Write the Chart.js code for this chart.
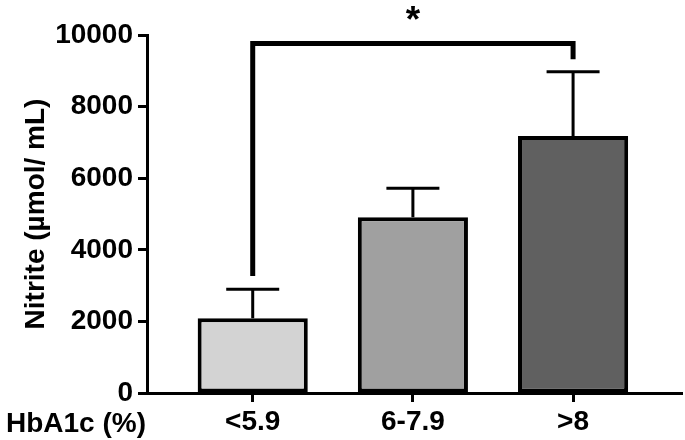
<!DOCTYPE html>
<html>
<head>
<meta charset="utf-8">
<script src="https://cdn.jsdelivr.net/npm/chart.js@4"></script>
<style>
  html, body { margin: 0; padding: 0; background: #fff; }
  #wrap { width: 685px; height: 440px; }
</style>
</head>
<body>
<div id="wrap"><canvas id="chart" width="685" height="440"></canvas></div>
<script>
const categories = ['<5.9', '6-7.9', '>8'];
const nitrite = [2090, 4910, 7180];
const errUpper = [810, 810, 1790];
const barColors = ['#d3d3d3', '#a0a0a0', '#606060'];
const yTicks = [0, 2000, 4000, 6000, 8000, 10000];
// significance bracket: from group 0 to group 2
const sigFrom = 0, sigTo = 2;
const sigTop = 9760, sigLeftEnd = 3270, sigRightEnd = 9320, sigStarY = 10620;

const FONT = "'Liberation Sans', Arial, Helvetica, sans-serif";
const FS = 28;

const extras = {
  id: 'extras',
  afterDatasetsDraw(chart) {
    const { ctx, scales: { x, y } } = chart;
    ctx.save();
    ctx.strokeStyle = '#000';
    ctx.lineCap = 'butt';

    // error bars (upper only)
    ctx.lineWidth = 3;
    nitrite.forEach((v, i) => {
      const px = x.getPixelForValue(i);
      const y0 = y.getPixelForValue(v);
      const y1 = y.getPixelForValue(v + errUpper[i]);
      ctx.beginPath();
      ctx.moveTo(px, y0);
      ctx.lineTo(px, y1);
      ctx.moveTo(px - 26.5, y1);
      ctx.lineTo(px + 26.5, y1);
      ctx.stroke();
    });

    // bracket
    ctx.lineWidth = 5;
    ctx.lineJoin = 'miter';
    ctx.beginPath();
    ctx.moveTo(x.getPixelForValue(sigFrom), y.getPixelForValue(sigLeftEnd));
    ctx.lineTo(x.getPixelForValue(sigFrom), y.getPixelForValue(sigTop));
    ctx.lineTo(x.getPixelForValue(sigTo), y.getPixelForValue(sigTop));
    ctx.lineTo(x.getPixelForValue(sigTo), y.getPixelForValue(sigRightEnd));
    ctx.stroke();

    ctx.fillStyle = '#000';
    ctx.font = 'bold 37px ' + FONT;
    ctx.textAlign = 'center';
    ctx.textBaseline = 'middle';
    ctx.fillText('*', x.getPixelForValue((sigFrom + sigTo) / 2), y.getPixelForValue(sigStarY) + 9);

    // x axis row label
    ctx.font = 'bold ' + FS + 'px ' + FONT;
    ctx.textAlign = 'right';
    ctx.textBaseline = 'middle';
    ctx.fillText('HbA1c (%)', x.left - 1, 424);
    ctx.restore();
  }
};

new Chart(document.getElementById('chart'), {
  type: 'bar',
  data: {
    datasets: [{
      data: nitrite.map((v, i) => ({ x: i, y: v })),
      backgroundColor: barColors,
      borderColor: '#000',
      borderWidth: 4,
      borderSkipped: false,
      barPercentage: 0.6875,
      categoryPercentage: 1
    }]
  },
  options: {
    responsive: false,
    animation: false,
    devicePixelRatio: 1,
    layout: { padding: { top: 35, right: 3, left: 0, bottom: 0 } },
    plugins: { legend: { display: false }, tooltip: { enabled: false } },
    scales: {
      x: {
        type: 'linear',
        offset: false,
        min: -0.66,
        max: 2.68,
        afterBuildTicks: s => { s.ticks = categories.map((c, i) => ({ value: i })); },
        afterFit: s => { s.height = 47; },
        grid: { offset: false, drawOnChartArea: false, drawTicks: true, tickLength: 9, tickWidth: 3, tickColor: '#000' },
        border: { display: true, color: '#000', width: 3 },
        ticks: {
          color: '#000',
          padding: 3,
          maxRotation: 0,
          autoSkip: false,
          font: { family: FONT, size: FS, weight: 'bold' },
          callback: v => categories[v]
        }
      },
      y: {
        min: 0,
        max: 10000,
        afterBuildTicks: s => { s.ticks = yTicks.map(v => ({ value: v })); },
        afterFit: s => { s.width = 147; },
        grid: { drawOnChartArea: false, tickLength: 9, tickWidth: 3, tickColor: '#000' },
        border: { display: true, color: '#000', width: 3 },
        ticks: {
          color: '#000',
          padding: 5,
          font: { family: FONT, size: FS, weight: 'bold' },
          callback: v => String(v)
        },
        title: {
          display: true,
          text: 'Nitrite (µmol/ mL)',
          color: '#000',
          padding: { top: 19, bottom: 0 },
          font: { family: FONT, size: FS, weight: 'bold' }
        }
      }
    }
  },
  plugins: [extras]
});
</script>
</body>
</html>
